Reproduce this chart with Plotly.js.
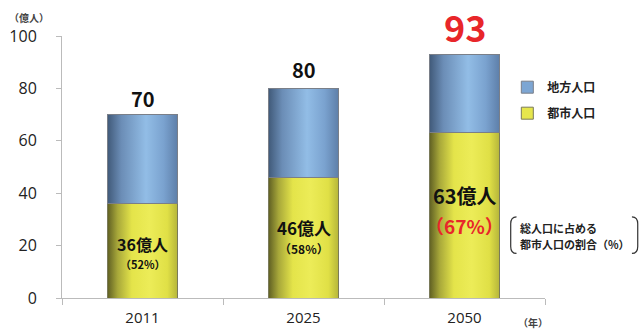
<!DOCTYPE html>
<html><head><meta charset="utf-8">
<script src="https://cdn.plot.ly/plotly-3.0.1.min.js"></script>
<style>body{margin:0;background:#fff}#c{width:640px;height:332px}</style>
</head><body><div id="c"></div>
<script>
const years = ['2011', '2025', '2050'];
const urban = [36, 46, 63];
const rural = [34, 34, 30];
const urbanPct = [52, 58, 67];
const seriesNames = ['都市人口', '地方人口'];
const yTicks = [0, 20, 40, 60, 80, 100];

const totals = urban.map((u, i) => u + rural[i]);
const JP = '"Noto Sans CJK JP", "Noto Sans", sans-serif';
const RED = '#e8262a';

const traces = [
  {type: 'bar', name: seriesNames[0], x: years, y: urban, legendgroup: 'u', legendrank: 2,
   marker: {color: '#e6e64c', line: {color: '#7a7a5a', width: 1}}, hoverinfo: 'skip'},
  {type: 'bar', name: seriesNames[1], x: years, y: rural, legendgroup: 'r', legendrank: 1,
   marker: {color: '#7da6d3', line: {color: '#7a7f88', width: 1}}, hoverinfo: 'skip'}
];

const annotations = [];
const topSize = [20, 20, 36], topColor = ['#111', '#111', RED], topShift = [0, 2, 0];
years.forEach((yr, i) => {
  annotations.push({x: i, y: totals[i], text: '<b>' + totals[i] + '</b>', showarrow: false,
    yanchor: 'bottom', yshift: topShift[i], font: {family: JP, size: topSize[i], color: topColor[i]}});
});
const inSize = [16, 17, 20], inShift = [7, 10, 20];
const pSize = [11, 12, 19], pColor = ['#111', '#111', RED], pShift = [-13, -11, -10];
years.forEach((yr, i) => {
  annotations.push({x: i, y: urban[i] / 2, text: '<b>' + urban[i] + '億人</b>', showarrow: false,
    yshift: inShift[i], font: {family: JP, size: inSize[i], color: '#111'}});
  annotations.push({x: i, y: urban[i] / 2, text: '<b>（' + urbanPct[i] + '%）</b>', showarrow: false,
    yshift: pShift[i], font: {family: JP, size: pSize[i], color: pColor[i]}});
});
annotations.push({xref: 'paper', yref: 'paper', x: -0.068, y: 1.072, xanchor: 'center', yanchor: 'middle',
  text: '<b>（億人）</b>', showarrow: false, font: {family: JP, size: 10, color: '#444'}});
annotations.push({xref: 'paper', yref: 'paper', x: 0.94, y: -0.095, xanchor: 'left', yanchor: 'middle',
  text: '<b>（年）</b>', showarrow: false, font: {family: JP, size: 10, color: '#444'}});
annotations.push({xref: 'paper', yref: 'paper', x: 0.944, y: 0.266, xanchor: 'left', yanchor: 'middle',
  text: '<b>総人口に占める</b>', showarrow: false, font: {family: JP, size: 11, color: '#222'}});
annotations.push({xref: 'paper', yref: 'paper', x: 0.944, y: 0.206, xanchor: 'left', yanchor: 'middle',
  text: '<b>都市人口の割合（%）</b>', showarrow: false, font: {family: JP, size: 11, color: '#222'}});

const shapes = [
  {type: 'path', xref: 'paper', yref: 'paper', line: {color: '#333', width: 1.2},
   path: 'M 0.941,0.31 Q 0.929,0.31 0.929,0.283 L 0.929,0.197 Q 0.929,0.17 0.941,0.17'},
  {type: 'path', xref: 'paper', yref: 'paper', line: {color: '#333', width: 1.2},
   path: 'M 1.18,0.31 Q 1.192,0.31 1.192,0.283 L 1.192,0.197 Q 1.192,0.17 1.18,0.17'}
];

const layout = {
  width: 640, height: 332,
  margin: {l: 62, r: 95, t: 36, b: 34},
  paper_bgcolor: '#fff', plot_bgcolor: '#fff',
  barmode: 'stack', bargap: 0.56,
  showlegend: true,
  legend: {x: 0.922, y: 0.86, xanchor: 'left', yanchor: 'top', traceorder: 'grouped',
    font: {family: JP, size: 12, color: '#222', weight: 'bold'}, bgcolor: 'rgba(0,0,0,0)', tracegroupgap: 7},
  xaxis: {type: 'category', categoryorder: 'array', categoryarray: years, range: [-0.5, 2.5],
    autorange: false, showline: true, linecolor: '#bbb', linewidth: 1,
    ticks: 'outside', tickson: 'boundaries', ticklen: 6, tickcolor: '#bbb',
    tickfont: {family: '"Open Sans", "Noto Sans", sans-serif', size: 15, color: '#222'},
    ticklabelstandoff: 6, showgrid: false, zeroline: false},
  yaxis: {range: [0, 100], autorange: false, tickvals: yTicks, ticktext: yTicks.map(String), showline: true,
    linecolor: '#bbb', linewidth: 1, ticks: 'outside', ticklen: 5, tickcolor: '#bbb',
    tickfont: {family: '"Open Sans", "Noto Sans", sans-serif', size: 16, color: '#222'},
    ticklabelstandoff: 16, showgrid: false, zeroline: false},
  annotations: annotations, shapes: shapes
};

Plotly.newPlot('c', traces, layout, {staticPlot: true}).then(gd => {
  const svg = gd.querySelector('svg.main-svg');
  const ns = 'http://www.w3.org/2000/svg';
  let defs = svg.querySelector('defs');
  if (!defs) { defs = document.createElementNS(ns, 'defs'); svg.insertBefore(defs, svg.firstChild); }
  function grad(id, stops) {
    const g = document.createElementNS(ns, 'linearGradient');
    g.setAttribute('id', id); g.setAttribute('x1', '0'); g.setAttribute('x2', '1');
    g.setAttribute('y1', '0'); g.setAttribute('y2', '0');
    stops.forEach(([o, c]) => { const s = document.createElementNS(ns, 'stop');
      s.setAttribute('offset', o); s.setAttribute('stop-color', c); g.appendChild(s); });
    defs.appendChild(g);
  }
  grad('gYellow', [[0, '#5c5c22'], [0.15, '#a8a83a'], [0.35, '#e4e44a'], [0.6, '#ecec58'], [0.85, '#e0e046'], [1, '#b4b43a']]);
  grad('gBlue', [[0, '#3f5877'], [0.2, '#6b8db6'], [0.55, '#92bde6'], [0.8, '#7aa2cf'], [1, '#5d7ea8']]);
  const groups = gd.querySelectorAll('.barlayer .trace');
  groups.forEach((t, i) => {
    t.querySelectorAll('path').forEach(p => { p.style.fill = i === 0 ? 'url(#gYellow)' : 'url(#gBlue)'; });
  });
});
</script></body></html>
